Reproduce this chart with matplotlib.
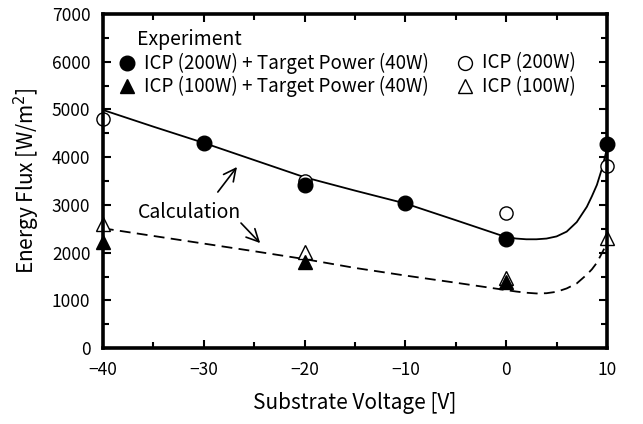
import matplotlib
matplotlib.use('Agg')

import matplotlib.pyplot as plt
from matplotlib.ticker import MultipleLocator

plt.rcParams['font.family'] = ['Noto Sans CJK JP', 'DejaVu Sans']

# ============================================================
# DATA
# ============================================================

# experiment
v_icp200_target = [-30, -20, -10, 0, 10]
e_icp200_target = [4300, 3420, 3040, 2290, 4280]

v_icp200 = [-40, -20, 0, 10]
e_icp200 = [4800, 3500, 2830, 3820]

v_icp100_target = [-40, -20, 0]
e_icp100_target = [2220, 1800, 1385]

v_icp100 = [-40, -20, 0, 10]
e_icp100 = [2600, 2010, 1470, 2300]

# calculation curves
v_calc_200 = [-40, -35, -30, -25, -20, -15, -10, -5, 0, 1, 2, 3, 4, 5, 6, 7, 8, 8.5, 9, 9.5, 10]
e_calc_200 = [4990, 4640, 4300, 3940, 3580, 3300, 3030, 2680, 2325, 2295, 2280, 2280, 2295, 2340, 2440, 2640, 2960, 3180, 3420, 3760, 4180]

v_calc_100 = [-40, -35, -30, -25, -20, -15, -10, -5, 0, 1, 2, 3, 4, 5, 6, 7, 8, 8.5, 9, 9.5, 10]
e_calc_100 = [2510, 2350, 2190, 2030, 1865, 1680, 1520, 1370, 1215, 1185, 1160, 1145, 1150, 1180, 1250, 1355, 1540, 1650, 1790, 1990, 2200]

# legend texts
lbl_exp = 'Experiment'
lbl_200_target = 'ICP (200W) + Target Power (40W)'
lbl_100_target = 'ICP (100W) + Target Power (40W)'
lbl_200 = 'ICP (200W)'
lbl_100 = 'ICP (100W)'

# ============================================================
# FIGURE
# ============================================================

fig = plt.figure(figsize=(6.43, 4.24), dpi=100)
ax = fig.add_axes([0.160, 0.179, 0.784, 0.788])

ax.plot(v_calc_200, e_calc_200, color='black', lw=1.3)
ax.plot(v_calc_100, e_calc_100, color='black', lw=1.3, dashes=(6, 3.5))

ax.plot(v_icp200, e_icp200, 'o', ms=9.5, mfc='white', mec='black', mew=1.0, clip_on=False)
ax.plot(v_icp200_target, e_icp200_target, 'o', ms=10.5, color='black', clip_on=False)
ax.plot(v_icp100, e_icp100, '^', ms=10.5, mfc='white', mec='black', mew=1.0, clip_on=False)
ax.plot(v_icp100_target, e_icp100_target, '^', ms=10.5, color='black', clip_on=False)

# ------------------------------------------------------------
# axes styling
# ------------------------------------------------------------

ax.set_xlim(-40, 10)
ax.set_ylim(0, 7000)

ax.xaxis.set_major_locator(MultipleLocator(10))
ax.xaxis.set_minor_locator(MultipleLocator(5))
ax.yaxis.set_major_locator(MultipleLocator(1000))
ax.yaxis.set_minor_locator(MultipleLocator(500))

ax.tick_params(which='both', direction='in', top=True, right=True,
               width=1.5, labelsize=12.5)
ax.tick_params(which='major', length=6, pad=9)
ax.tick_params(which='minor', length=4)

for s in ax.spines.values():
    s.set_linewidth(2.6)

ax.set_xlabel('Substrate Voltage [V]', fontsize=15, labelpad=10)
ax.set_ylabel('Energy Flux [W/m$^2$]', fontsize=15, labelpad=7)

# ------------------------------------------------------------
# legend block (hand-placed, as in the original)
# ------------------------------------------------------------

fs = 13.5
ax.text(0.067, 0.925, lbl_exp, transform=ax.transAxes, fontsize=14, va='center')

ax.plot([0.048], [0.853], 'o', ms=10.5, color='black', transform=ax.transAxes, clip_on=False)
ax.text(0.081, 0.853, lbl_200_target, transform=ax.transAxes, fontsize=fs, va='center')

ax.plot([0.048], [0.784], '^', ms=10.5, color='black', transform=ax.transAxes, clip_on=False)
ax.text(0.081, 0.784, lbl_100_target, transform=ax.transAxes, fontsize=fs, va='center')

ax.plot([0.718], [0.853], 'o', ms=10, mfc='white', mec='black', mew=1.0, transform=ax.transAxes, clip_on=False)
ax.text(0.752, 0.853, lbl_200, transform=ax.transAxes, fontsize=fs, va='center')

ax.plot([0.718], [0.784], '^', ms=10.5, mfc='white', mec='black', mew=1.0, transform=ax.transAxes, clip_on=False)
ax.text(0.752, 0.784, lbl_100, transform=ax.transAxes, fontsize=fs, va='center')

# ------------------------------------------------------------
# calculation label and arrows
# ------------------------------------------------------------

ax.text(-31.4, 2850, 'Calculation', fontsize=14, ha='center', va='center')

arrow_style = dict(arrowstyle='->', lw=1.2, color='black',
                   mutation_scale=22, shrinkA=0, shrinkB=0)

ax.annotate('', xy=(-26.7, 3795), xytext=(-28.6, 3270), arrowprops=arrow_style)
ax.annotate('', xy=(-24.4, 2200), xytext=(-26.3, 2620), arrowprops=arrow_style)

plt.savefig('out.png', dpi=100)
